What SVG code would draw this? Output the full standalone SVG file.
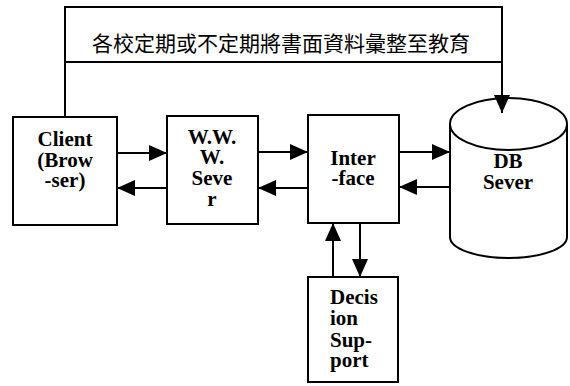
<svg xmlns="http://www.w3.org/2000/svg" width="570" height="386" viewBox="0 0 570 386">
<style>
.box{fill:#fff;stroke:#000;stroke-width:2}
.ln{fill:none;stroke:#000;stroke-width:2}
.lbl{font-family:"Liberation Serif","Times New Roman",serif;font-weight:bold;font-size:21px;fill:#000}
.c{text-anchor:middle}
.cjk{font-family:"Noto Sans CJK TC","Noto Sans CJK SC",sans-serif;font-size:21px;fill:#000}
</style>
<defs>
<marker id="ah" viewBox="0 0 18 16" refX="18" refY="8" markerWidth="18" markerHeight="16" markerUnits="userSpaceOnUse" orient="auto">
<path d="M0,0 L18,8 L0,16 Z" fill="#000"/>
</marker>
</defs>
<rect width="570" height="386" fill="#fff"/>
<g id="note">
<rect class="box" x="65" y="7" width="437" height="55"/>
<text class="cjk" x="92" y="51">各校定期或不定期將書面資料彙整至教育</text>
</g>
<g id="client">
<rect class="box" x="13" y="117" width="104" height="108"/>
<text class="lbl c" x="65" y="146">Client</text>
<text class="lbl c" x="65" y="167">(Brow</text>
<text class="lbl c" x="65" y="187">-ser)</text>
</g>
<g id="www">
<rect class="box" x="167" y="116" width="91" height="108"/>
<text class="lbl c" x="212" y="144">W.W.</text>
<text class="lbl c" x="212" y="164">W.</text>
<text class="lbl c" x="212" y="185">Seve</text>
<text class="lbl c" x="212" y="206">r</text>
</g>
<g id="interface">
<rect class="box" x="308" y="115" width="91" height="108"/>
<text class="lbl c" x="353" y="165">Inter</text>
<text class="lbl c" x="353" y="185">-face</text>
</g>
<g id="db">
<path class="box" d="M450,124 L450,237 A58.5,21 0 0 0 567,237 L567,124"/>
<ellipse class="box" cx="508.5" cy="124" rx="58.5" ry="26"/>
<text class="lbl c" x="508" y="168">DB</text>
<text class="lbl c" x="508" y="189">Sever</text>
</g>
<g id="decision">
<rect class="box" x="308" y="277" width="90" height="105"/>
<text class="lbl" x="330" y="304">Decis</text>
<text class="lbl" x="330" y="325">ion</text>
<text class="lbl" x="330" y="347">Sup-</text>
<text class="lbl" x="330" y="367">port</text>
</g>
<g id="connectors">
<path class="ln" d="M65,62 L65,117"/>
<path class="ln" d="M502,62 L502,113" marker-end="url(#ah)"/>
<path class="ln" d="M117,153 L167,153" marker-end="url(#ah)"/>
<path class="ln" d="M167,188 L117,188" marker-end="url(#ah)"/>
<path class="ln" d="M258,152 L308,152" marker-end="url(#ah)"/>
<path class="ln" d="M308,188 L258,188" marker-end="url(#ah)"/>
<path class="ln" d="M399,152 L450,152" marker-end="url(#ah)"/>
<path class="ln" d="M450,187 L399,187" marker-end="url(#ah)"/>
<path class="ln" d="M333,277 L333,223" marker-end="url(#ah)"/>
<path class="ln" d="M360,223 L360,277" marker-end="url(#ah)"/>
</g>
</svg>
